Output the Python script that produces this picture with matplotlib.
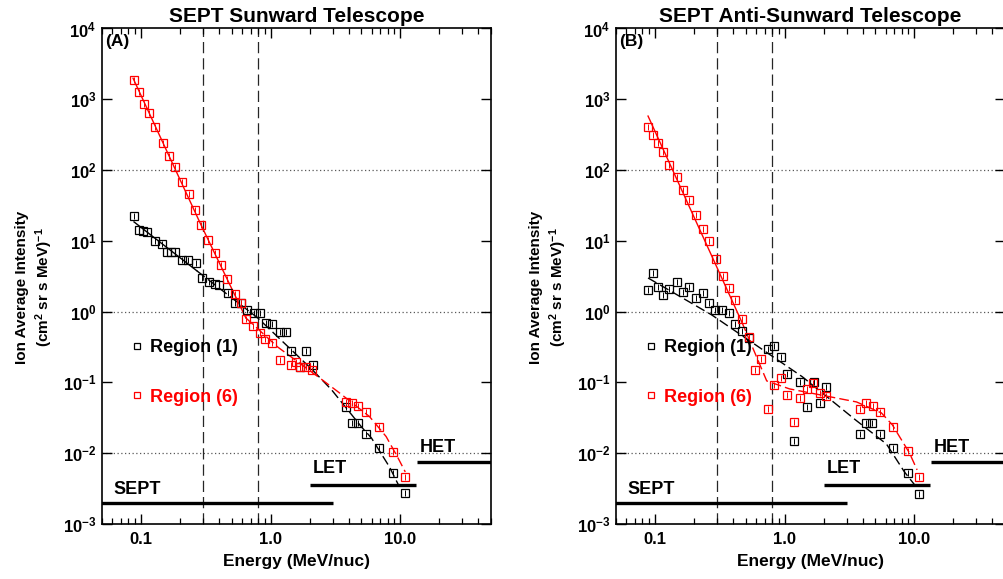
import math
import matplotlib
matplotlib.use("Agg")
import matplotlib.pyplot as plt
from matplotlib.lines import Line2D
from matplotlib.ticker import FixedLocator, LogLocator, NullFormatter, FuncFormatter

plt.rcParams["font.family"] = ["Liberation Sans", "DejaVu Sans"]
plt.rcParams["font.weight"] = "bold"
plt.rcParams["mathtext.fontset"] = "custom"
plt.rcParams["mathtext.rm"] = "Liberation Sans:bold"
plt.rcParams["mathtext.bf"] = "Liberation Sans:bold"
plt.rcParams["mathtext.it"] = "Liberation Sans:bold"
plt.rcParams["mathtext.default"] = "rm"

# ---- data (energy in MeV/nuc, intensity in (cm2 sr s MeV)^-1) ----
a_r1_E = [0.088, 0.096, 0.103, 0.112, 0.128, 0.146, 0.158, 0.170, 0.183, 0.206,
          0.231, 0.265, 0.295, 0.332, 0.373, 0.400, 0.467, 0.528, 0.585, 0.654,
          0.740, 0.823, 0.927, 1.03, 1.17, 1.32, 1.44, 1.86, 1.67, 2.11,
          3.81, 4.22, 4.70, 5.45, 6.89, 8.79, 10.8]
a_r1_I = [22.5, 14.3, 13.8, 13.4, 10.1, 8.95, 7.0, 7.0, 7.0, 5.37,
          5.37, 4.83, 2.96, 2.60, 2.44, 2.38, 1.85, 1.31, 1.34, 1.06,
          0.96, 0.96, 0.70, 0.67, 0.516, 0.516, 0.279, 0.279, 0.164, 0.177,
          0.0443, 0.0265, 0.0265, 0.0184, 0.0118, 0.0052, 0.0027]

a_r6_E = [0.088, 0.097, 0.105, 0.115, 0.127, 0.147, 0.165, 0.184, 0.206, 0.233,
          0.259, 0.291, 0.330, 0.373, 0.412, 0.464, 0.529, 0.588, 0.650, 0.731,
          0.823, 0.910, 1.02, 1.17, 1.44, 1.58, 1.67, 1.88, 2.08, 3.79,
          4.22, 4.71, 5.45, 6.84, 8.81, 10.8]
a_r6_I = [1870, 1280, 849, 647, 403, 242, 158, 110, 67.3, 45.9,
          27.6, 16.8, 10.3, 6.68, 4.57, 2.87, 1.78, 1.31, 0.781, 0.628,
          0.505, 0.407, 0.365, 0.208, 0.177, 0.197, 0.167, 0.167, 0.150, 0.0536,
          0.0508, 0.0466, 0.0387, 0.0238, 0.0105, 0.00467]

b_r1_E = [0.0971, 0.0888, 0.106, 0.115, 0.129, 0.148, 0.165, 0.184, 0.207, 0.234,
          0.261, 0.292, 0.326, 0.369, 0.415, 0.467, 0.531, 0.745, 0.834, 0.931,
          1.05, 1.17, 1.32, 1.48, 1.67, 1.86, 2.10, 3.78, 4.25, 4.75,
          5.45, 6.89, 8.87, 10.9]
b_r1_I = [3.56, 1.99, 2.25, 1.74, 2.10, 2.65, 1.87, 2.23, 1.56, 1.82,
          1.33, 1.06, 1.06, 0.968, 0.670, 0.539, 0.425, 0.294, 0.328, 0.227,
          0.132, 0.0151, 0.103, 0.0455, 0.103, 0.0508, 0.0873, 0.0187, 0.0268, 0.0268,
          0.0185, 0.0118, 0.0052, 0.00266]

b_r6_E = [0.0888, 0.0971, 0.106, 0.115, 0.128, 0.147, 0.165, 0.184, 0.207, 0.233,
          0.260, 0.293, 0.335, 0.371, 0.415, 0.470, 0.529, 0.662, 0.588, 0.830,
          0.931, 0.739, 1.04, 1.18, 1.31, 1.48, 1.65, 1.86, 2.09, 3.78,
          4.25, 4.78, 5.41, 6.89, 8.87, 10.9]
b_r6_I = [410, 313, 239, 178, 118, 80.7, 52.4, 37.8, 23.2, 14.6,
          9.97, 5.49, 3.22, 2.14, 1.46, 0.781, 0.435, 0.215, 0.148, 0.0908,
          0.115, 0.0418, 0.0666, 0.0279, 0.0598, 0.0809, 0.0984, 0.0711, 0.0645, 0.0427,
          0.0513, 0.0466, 0.0387, 0.0238, 0.0108, 0.00467]

# broken power-law fit curves (nodes); first `split` segments solid, rest dashed
a_r1_fit_E = [0.0883, 0.270, 0.794, 2.10, 2.95, 5.01, 5.98, 8.23, 9.66]
a_r1_fit_I = [18.5, 3.76, 0.815, 0.150, 0.0784, 0.0235, 0.0164, 0.00641, 0.00356]
a_r6_fit_E = [0.0868, 0.290, 0.643, 1.13, 2.38, 3.39, 5.78, 7.76, 9.49, 10.9]
a_r6_fit_I = [1980, 16.8, 0.815, 0.317, 0.116, 0.0711, 0.0329, 0.0172, 0.00887, 0.00544]
b_r1_fit_E = [0.0884, 0.274, 1.37, 3.52, 6.09, 8.38, 10.2]
b_r1_fit_I = [2.99, 0.898, 0.120, 0.0295, 0.0135, 0.00545, 0.00345]
b_r6_fit_E = [0.0884, 0.467, 0.727, 1.09, 3.58, 5.57, 6.77, 9.16, 10.5]
b_r6_fit_I = [579, 0.715, 0.105, 0.081, 0.053, 0.0371, 0.0251, 0.0101, 0.00581]

break_energies = [0.3, 0.8]
grid_levels = [1e2, 1e0, 1e-2]

# instrument energy ranges: name, E_lo, E_hi, bar level, label E, label level
instruments = [("SEPT", 0.04, 3.0, 2.0e-3, 0.061, 3.1e-3),
               ("LET", 2.0, 13.3, 3.5e-3, 2.1, 6.0e-3),
               ("HET", 13.4, 60.0, 7.4e-3, 14.0, 1.2e-2)]

panels = [
    dict(title="SEPT Sunward Telescope", tag="(A)",
         r1=(a_r1_E, a_r1_I), r6=(a_r6_E, a_r6_I),
         f1=(a_r1_fit_E, a_r1_fit_I, 1), f6=(a_r6_fit_E, a_r6_fit_I, 2)),
    dict(title="SEPT Anti-Sunward Telescope", tag="(B)",
         r1=(b_r1_E, b_r1_I), r6=(b_r6_E, b_r6_I),
         f1=(b_r1_fit_E, b_r1_fit_I, 0), f6=(b_r6_fit_E, b_r6_fit_I, 1)),
]

RED = "#ff0000"
DASH = (0, (7, 3))

fig = plt.figure(figsize=(10.04, 5.79), dpi=100)
axes_rects = [[0.1016, 0.095, 0.3875, 0.8558], [0.6135, 0.095, 0.3875, 0.8558]]


def draw_fit(ax, fit, color):
    E, I, split = fit
    if split > 0:
        ax.plot(E[:split + 1], I[:split + 1], color=color, lw=1.0, ls="-", zorder=3)
    ax.plot(E[split:], I[split:], color=color, lw=1.0, ls=DASH, zorder=3)


def draw_points(ax, pts, color):
    ax.plot(pts[0], pts[1], ls="none", marker="s", ms=5.5, mfc="none", mec=color, mew=0.9, zorder=4)
    ax.plot(pts[0], pts[1], ls="none", marker="|", ms=4.5, mec=color, mew=0.7, zorder=4)


for rect, p in zip(axes_rects, panels):
    ax = fig.add_axes(rect)
    ax.set_xscale("log")
    ax.set_yscale("log")
    ax.set_xlim(0.05, 50)
    ax.set_ylim(1e-3, 1e4)

    for g in grid_levels:
        ax.axhline(g, color="0.35", lw=0.9, ls=(0, (1, 2)), zorder=1)
    for b in break_energies:
        ax.axvline(b, color="0.15", lw=0.9, ls=(0, (9, 4)), zorder=1)

    draw_fit(ax, p["f1"], "black")
    draw_fit(ax, p["f6"], RED)
    draw_points(ax, p["r1"], "black")
    draw_points(ax, p["r6"], RED)

    for name, lo, hi, lev, tx, ty in instruments:
        ax.plot([lo, hi], [lev, lev], color="black", lw=2.4, solid_capstyle="butt", zorder=2)
        ax.text(tx, ty, name, fontsize=13, fontweight="bold", va="center", ha="left")

    handles = [Line2D([], [], ls="none", marker="s", ms=5, mfc="none", mec="black", mew=0.9),
               Line2D([], [], ls="none", marker="s", ms=5, mfc="none", mec=RED, mew=0.9)]
    ax.legend(handles, ["Region (1)", "Region (6)"], loc="center left",
              bbox_to_anchor=(0.055, 0.306), frameon=False, fontsize=13,
              handlelength=0.5, handletextpad=0.5, labelspacing=1.8,
              labelcolor="markeredgecolor", borderpad=0)

    ax.text(0.008, 0.988, p["tag"], transform=ax.transAxes, fontsize=12.5,
            fontweight="bold", va="top", ha="left")
    ax.set_title(p["title"], fontsize=15, fontweight="bold", pad=5)
    ax.set_xlabel("Energy (MeV/nuc)", fontsize=12.5, fontweight="bold", labelpad=5)
    ax.text(-0.206, 0.478, "Ion Average Intensity", transform=ax.transAxes,
            rotation=90, fontsize=11, fontweight="bold", ha="center", va="center")
    ax.text(-0.148, 0.478, r"(cm$^{2}$ sr s MeV)$^{-1}$", transform=ax.transAxes,
            rotation=90, fontsize=11, fontweight="bold", ha="center", va="center")

    ax.xaxis.set_major_locator(FixedLocator([0.1, 1.0, 10.0]))
    ax.set_xticklabels(["0.1", "1.0", "10.0"])
    ax.xaxis.set_minor_locator(LogLocator(base=10, subs=range(2, 10), numticks=20))
    ax.xaxis.set_minor_formatter(NullFormatter())
    ax.yaxis.set_major_locator(FixedLocator([10.0 ** k for k in range(-3, 5)]))
    ax.yaxis.set_major_formatter(FuncFormatter(lambda v, pos: r"$10^{%d}$" % round(math.log10(v))))
    ax.yaxis.set_minor_locator(FixedLocator([]))
    ax.tick_params(axis="both", which="major", direction="in", length=7, width=1.0,
                   top=True, right=True, labelsize=12)
    ax.tick_params(axis="both", which="minor", direction="in", length=4, width=0.9,
                   top=True, right=True)
    ax.tick_params(axis="y", pad=4)
    ax.tick_params(axis="x", pad=6)
    for s in ax.spines.values():
        s.set_linewidth(1.2)
    for lab in ax.get_xticklabels() + ax.get_yticklabels():
        lab.set_fontweight("bold")

fig.savefig("out.png", dpi=100)
